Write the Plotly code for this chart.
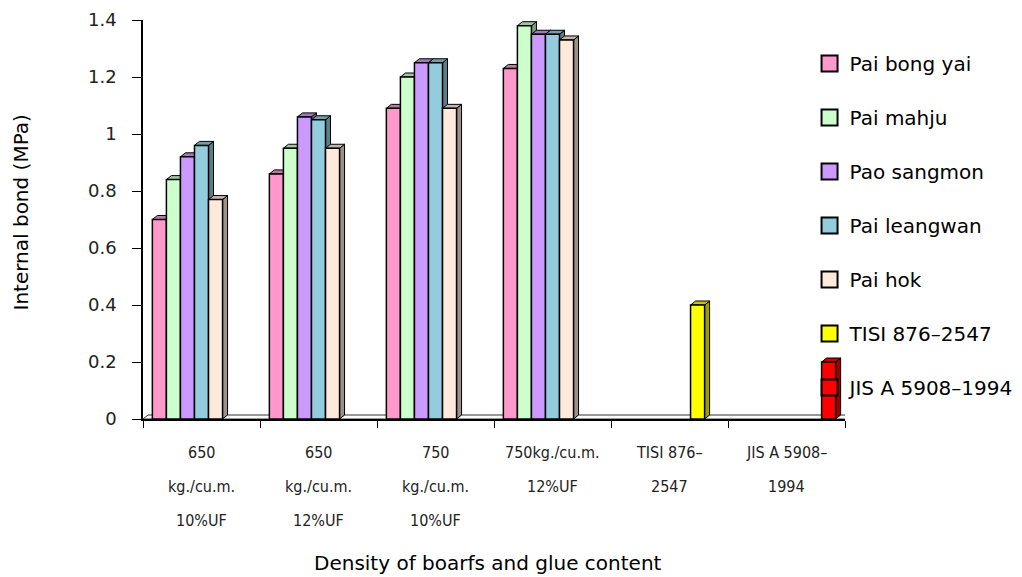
import plotly.graph_objects as go

# Category labels (one list of text lines per category)
category_lines = [
    ["650", "kg./cu.m.", "10%UF"],
    ["650", "kg./cu.m.", "12%UF"],
    ["750", "kg./cu.m.", "10%UF"],
    ["750kg./cu.m.", "12%UF"],
    ["TISI 876–", "2547"],
    ["JIS A 5908–", "1994"],
]

# Internal bond (MPa) per series
series_names = ["Pai bong yai", "Pai mahju", "Pao sangmon", "Pai leangwan",
                "Pai hok", "TISI 876–2547", "JIS A 5908–1994"]
pai_bong_yai = [0.70, 0.86, 1.09, 1.23, None, None]
pai_mahju = [0.84, 0.95, 1.20, 1.38, None, None]
pao_sangmon = [0.92, 1.06, 1.25, 1.35, None, None]
pai_leangwan = [0.96, 1.05, 1.25, 1.35, None, None]
pai_hok = [0.77, 0.95, 1.09, 1.33, None, None]
tisi_876_2547 = [None, None, None, None, 0.40, None]
jis_a_5908_1994 = [None, None, None, None, None, 0.20]
series_values = [pai_bong_yai, pai_mahju, pao_sangmon, pai_leangwan,
                 pai_hok, tisi_876_2547, jis_a_5908_1994]
series_colors = ["#FF99CC", "#CCFFCC", "#CC99FF", "#93CDDD",
                 "#FDEADA", "#FFFF00", "#FF0000"]

y_ticks = [0, 0.2, 0.4, 0.6, 0.8, 1.0, 1.2, 1.4]
y_ticktext = ["0", "0.2", "0.4", "0.6", "0.8", "1", "1.2", "1.4"]

FONT = "DejaVu Sans, sans-serif"
NARROW = "Liberation Sans Narrow, DejaVu Sans Condensed, Arial Narrow, sans-serif"

BARGAP = 0.16
n_series = len(series_names)
bar_w = (1 - BARGAP) / n_series

# 3D depth of the columns, in axis units
plot_w_px, plot_h_px = 702, 399
x_span, y_span = 6.0, 1.4
DX = 5 * x_span / plot_w_px
DY = 4 * y_span / plot_h_px


def shade(hex_color, f):
    h = hex_color.lstrip("#")
    r, g, b = (int(h[i:i + 2], 16) for i in (0, 2, 4))
    return "#%02X%02X%02X" % (int(r * f), int(g * f), int(b * f))


fig = go.Figure()
x_pos = list(range(len(category_lines)))

for name, vals, col in zip(series_names, series_values, series_colors):
    fig.add_trace(go.Bar(
        x=x_pos, y=vals, name=name, showlegend=False,
        marker=dict(color=col, line=dict(color="black", width=1.5)),
    ))

# Legend entries: square swatches
for name, col in zip(series_names, series_colors):
    fig.add_trace(go.Scatter(
        x=[None], y=[None], mode="markers", name=name, legendgroup=name,
        marker=dict(symbol="square", size=17, color=col,
                    line=dict(color="black", width=2)),
    ))

shapes = []
# floor plate
shapes.append(dict(
    type="path", layer="below", xref="x", yref="y",
    path=f"M -0.5,0 L 5.5,0 L {5.5 + DX},{DY} L {-0.5 + DX},{DY} Z",
    fillcolor="white", line=dict(color="#333333", width=1),
))
# top and side faces of each column
for j, (vals, col) in enumerate(zip(series_values, series_colors)):
    for i, v in enumerate(vals):
        if v is None:
            continue
        x0 = i - (1 - BARGAP) / 2 + j * bar_w
        x1 = x0 + bar_w
        shapes.append(dict(
            type="path", layer="below", xref="x", yref="y",
            path=f"M {x1},0 L {x1 + DX},{DY} L {x1 + DX},{v + DY} L {x1},{v} Z",
            fillcolor=shade(col, 0.62), line=dict(color="black", width=1),
        ))
        shapes.append(dict(
            type="path", layer="below", xref="x", yref="y",
            path=f"M {x0},{v} L {x1},{v} L {x1 + DX},{v + DY} L {x0 + DX},{v + DY} Z",
            fillcolor=shade(col, 0.78), line=dict(color="black", width=1),
        ))

annotations = []
for i, lines in enumerate(category_lines):
    for k, line in enumerate(lines):
        annotations.append(dict(
            x=i, y=0, xref="x", yref="paper", text=line, showarrow=False,
            xanchor="center", yanchor="middle", yshift=-33 - 34 * k,
            font=dict(family=NARROW, size=16, color="#222222"),
        ))

# Axis titles
annotations.append(dict(
    x=0.5, y=0, xref="paper", yref="paper", yshift=-144, xshift=-6,
    xanchor="center", yanchor="middle", showarrow=False,
    text="Density of boarfs and glue content",
    font=dict(family=FONT, size=20, color="black"),
))
annotations.append(dict(
    x=0, y=0.5, xref="paper", yref="paper", xshift=-123, yshift=7,
    xanchor="center", yanchor="middle", showarrow=False, textangle=-90,
    text="Internal bond (MPa)",
    font=dict(family=FONT, size=20, color="black"),
))

fig.update_layout(
    width=1022, height=577,
    margin=dict(l=143, r=177, t=20, b=158, autoexpand=False),
    paper_bgcolor="white", plot_bgcolor="white",
    barmode="group", bargap=BARGAP, bargroupgap=0,
    font=dict(family=FONT, size=18, color="black"),
    shapes=shapes, annotations=annotations,
    legend=dict(x=0.9495, y=0.94, xanchor="left", yanchor="top",
                bgcolor="rgba(0,0,0,0)", tracegroupgap=25,
                font=dict(family=FONT, size=20, color="black")),
    xaxis=dict(
        range=[-0.5, 5.5], showgrid=False, zeroline=False, automargin=False,
        showline=True, linecolor="black", linewidth=1.5,
        tickvals=[-0.5, 0.5, 1.5, 2.5, 3.5, 4.5, 5.5], showticklabels=False,
        ticks="outside", ticklen=7, tickcolor="black",
    ),
    yaxis=dict(
        range=[0, 1.4], showgrid=False, zeroline=False, automargin=False,
        showline=True, linecolor="black", linewidth=1.5,
        tickvals=y_ticks, ticktext=y_ticktext,
        ticks="outside", ticklen=9, tickcolor="black",
        ticklabelstandoff=12,
        tickfont=dict(family=FONT, size=18, color="#222222"),
    ),
)

fig.write_html("out.html")
